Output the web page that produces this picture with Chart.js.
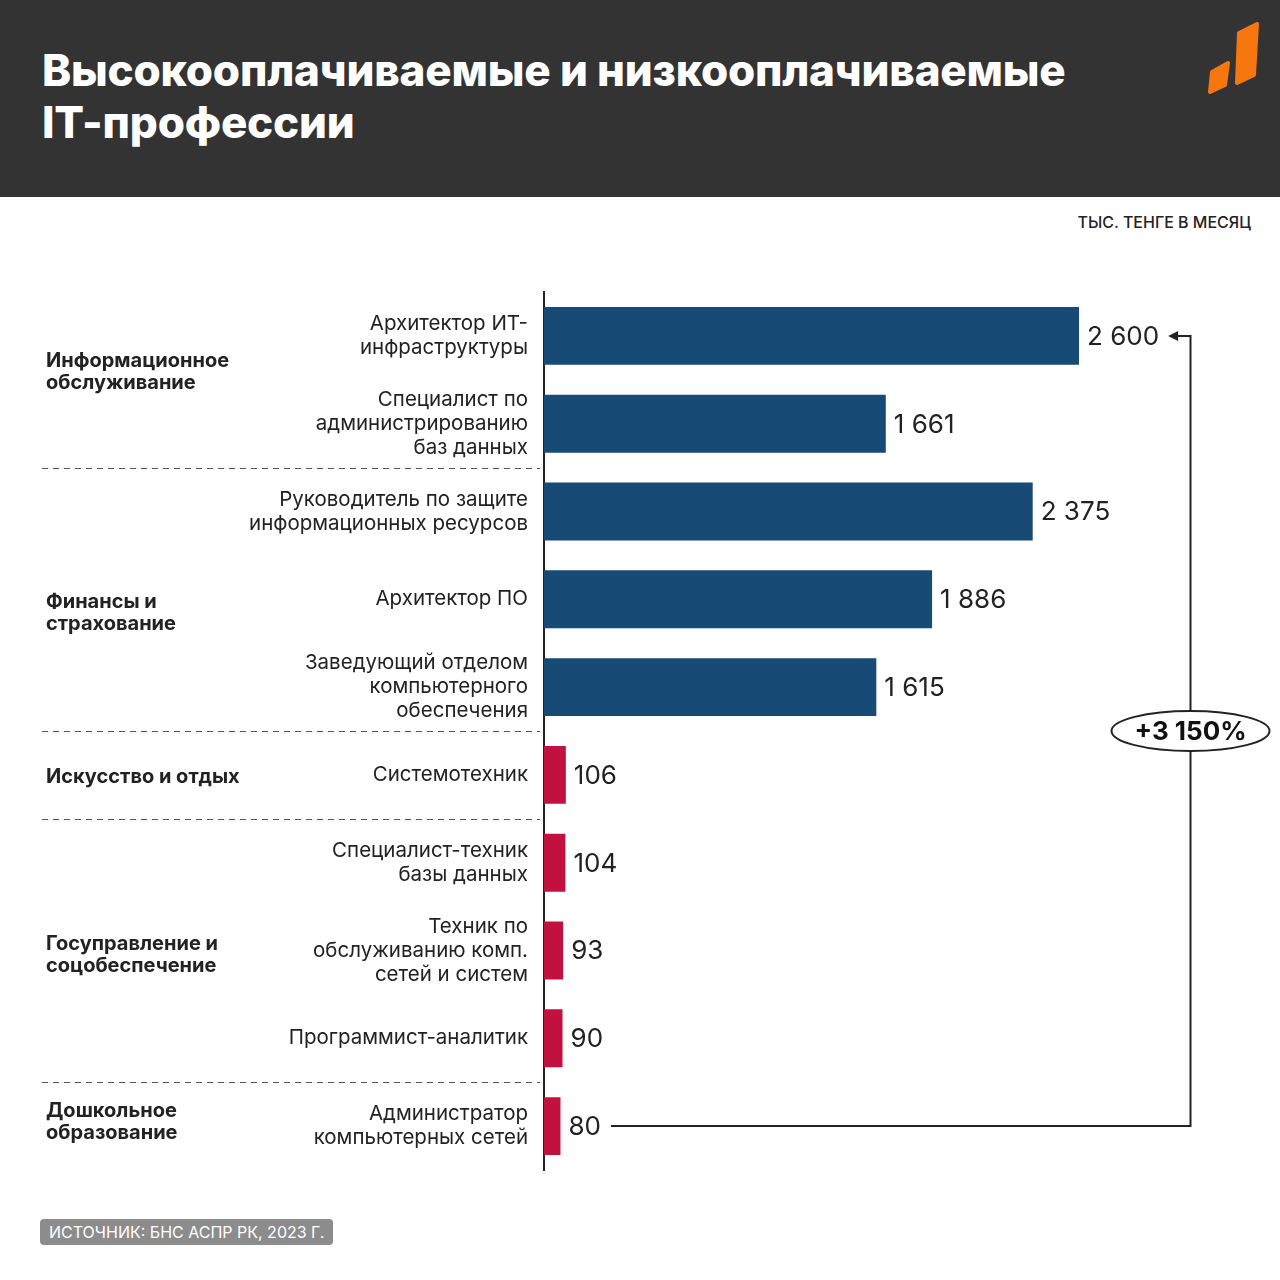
<!DOCTYPE html>
<html lang="ru">
<head>
<meta charset="utf-8">
<script src="https://cdn.jsdelivr.net/npm/chart.js@4.4.1/dist/chart.umd.min.js"></script>
<style>
  body { margin: 0; background: #fff; font-family: Inter, sans-serif; }
  #page { position: relative; width: 1280px; height: 1280px; overflow: hidden; background: #fff; }
  #header { position: absolute; left: 0; top: 0; width: 1280px; height: 197px; background: #333333; }
  #title { position: absolute; left: 42px; top: 44px; margin: 0; color: #fff; font-weight: 800; font-size: 44px; line-height: 52px; letter-spacing: -0.2px; }
  #logo { position: absolute; left: 0; top: 0; }
  #unit { position: absolute; right: 29px; top: 212px; font-size: 16px; color: #222; font-weight: 500; }
  #source { position: absolute; left: 40px; top: 1219px; height: 26px; padding: 0 9px; background: #8c8c8c; color: #fff; font-size: 16px; line-height: 26px; border-radius: 4px; }
  #chart { position: absolute; left: 0; top: 0; }
</style>
</head>
<body>
<div id="page">
  <div id="header">
    <h1 id="title">Высокооплачиваемые и низкооплачиваемые<br>IT-профессии</h1>
    <svg id="logo" width="1280" height="197">
      <polygon points="1212,72 1228,63 1225,85 1210,92" fill="#f7770f" stroke="#f7770f" stroke-width="4" stroke-linejoin="round"/>
      <polygon points="1239,33 1257,24 1254,75 1237,83" fill="#f7770f" stroke="#f7770f" stroke-width="4" stroke-linejoin="round"/>
    </svg>
  </div>
  <div id="unit">ТЫС. ТЕНГЕ В МЕСЯЦ</div>
  <canvas id="chart" width="1280" height="1280"></canvas>
  <div id="source">ИСТОЧНИК: БНС АСПР РК, 2023 Г.</div>
</div>

<script>
const professions = [
    ['Архитектор ИТ-', 'инфраструктуры'],
    ['Специалист по', 'администрированию', 'баз данных'],
    ['Руководитель по защите', 'информационных ресурсов'],
    ['Архитектор ПО'],
    ['Заведующий отделом', 'компьютерного', 'обеспечения'],
    ['Системотехник'],
    ['Специалист-техник', 'базы данных'],
    ['Техник по', 'обслуживанию комп.', 'сетей и систем'],
    ['Программист-аналитик'],
    ['Администратор', 'компьютерных сетей']
];
const salaries = [2600, 1661, 2375, 1886, 1615, 106, 104, 93, 90, 80];
const payTier = ['high', 'high', 'high', 'high', 'high', 'low', 'low', 'low', 'low', 'low'];

const groupNames = [
    ['Информационное', 'обслуживание'],
    ['Финансы и', 'страхование'],
    ['Искусство и отдых'],
    ['Госуправление и', 'соцобеспечение'],
    ['Дошкольное', 'образование']
];
const groupOfBar = [0, 0, 1, 1, 1, 2, 3, 3, 3, 4];

const tierColors = { high: '#174a75', low: '#c2103f' };
const inkColor = '#222222';
// vertical nudge of each group name relative to its band centre (px)
const groupNameNudge = [-8, 14, 2, 4, -4];

function fmt(n) {
    return n.toString().replace(/\B(?=(\d{3})+(?!\d))/g, ' ');
}

const groupsPlugin = {
    id: 'groups',
    afterDraw(chart) {
        const ctx = chart.ctx;
        const y = chart.scales.y;
        const band = y.getPixelForValue(1) - y.getPixelForValue(0);
        ctx.save();

        // group names
        ctx.fillStyle = inkColor;
        ctx.font = '700 20px Inter';
        ctx.textAlign = 'left';
        ctx.textBaseline = 'middle';
        groupNames.forEach((lines, g) => {
            const idx = groupOfBar.map((v, i) => v === g ? i : -1).filter(i => i >= 0);
            const top = y.getPixelForValue(idx[0]) - band / 2;
            const bottom = y.getPixelForValue(idx[idx.length - 1]) + band / 2;
            const mid = (top + bottom) / 2 + groupNameNudge[g];
            const lh = 22;
            lines.forEach((line, k) => {
                ctx.fillText(line, 46, mid + (k - (lines.length - 1) / 2) * lh);
            });
        });

        // dashed separators between groups
        ctx.strokeStyle = '#555';
        ctx.lineWidth = 1;
        ctx.setLineDash([6, 5]);
        for (let i = 1; i < groupOfBar.length; i++) {
            if (groupOfBar[i] !== groupOfBar[i - 1]) {
                const yy = Math.round(y.getPixelForValue(i) - band / 2) + 0.5;
                ctx.beginPath();
                ctx.moveTo(42, yy);
                ctx.lineTo(540, yy);
                ctx.stroke();
            }
        }
        ctx.setLineDash([]);

        // value labels
        const meta = chart.getDatasetMeta(0);
        ctx.font = '400 26px Inter';
        const labelEnds = [];
        meta.data.forEach((bar, i) => {
            const txt = fmt(salaries[i]);
            ctx.fillText(txt, bar.x + 8, bar.y + 1);
            labelEnds.push(bar.x + 8 + ctx.measureText(txt).width);
        });

        // bracket from lowest to highest
        const maxI = salaries.indexOf(Math.max(...salaries));
        const minI = salaries.indexOf(Math.min(...salaries));
        const yMax = meta.data[maxI].y;
        const yMin = meta.data[minI].y;
        const bx = 1190.5;
        ctx.strokeStyle = inkColor;
        ctx.lineWidth = 2;
        ctx.beginPath();
        ctx.moveTo(labelEnds[minI] + 10, yMin);
        ctx.lineTo(bx, yMin);
        ctx.lineTo(bx, yMax);
        ctx.lineTo(labelEnds[maxI] + 14, yMax);
        ctx.stroke();
        ctx.fillStyle = inkColor;
        ctx.beginPath();
        ctx.moveTo(labelEnds[maxI] + 9, yMax);
        ctx.lineTo(labelEnds[maxI] + 19, yMax - 5);
        ctx.lineTo(labelEnds[maxI] + 19, yMax + 5);
        ctx.closePath();
        ctx.fill();

        // growth badge
        const growth = Math.round((salaries[maxI] / salaries[minI] - 1) * 100);
        const cy = (yMax + yMin) / 2;
        ctx.beginPath();
        ctx.ellipse(bx, cy, 79, 20, 0, 0, Math.PI * 2);
        ctx.fillStyle = '#fff';
        ctx.fill();
        ctx.stroke();
        ctx.fillStyle = '#111';
        ctx.font = '700 26px Inter';
        ctx.textAlign = 'center';
        ctx.fillText('+' + fmt(growth) + '%', bx, cy + 1);

        ctx.restore();
    }
};

new Chart(document.getElementById('chart'), {
    type: 'bar',
    data: {
        labels: professions,
        datasets: [{
            data: salaries,
            backgroundColor: payTier.map(t => tierColors[t]),
            barPercentage: 0.66,
            categoryPercentage: 1
        }]
    },
    options: {
        indexAxis: 'y',
        responsive: false,
        animation: false,
        layout: { padding: { left: 0, right: 201, top: 292, bottom: 110 } },
        plugins: { legend: { display: false }, tooltip: { enabled: false } },
        scales: {
            x: { display: false, min: 0, max: 2600 },
            y: {
                grid: { display: false, drawTicks: false },
                border: { display: true, color: inkColor, width: 2 },
                ticks: {
                    color: inkColor,
                    padding: 16,
                    font: { family: 'Inter', size: 20.5, lineHeight: 1.17 }
                },
                afterFit(scale) { scale.width = 544; }
            }
        }
    },
    plugins: [groupsPlugin]
});
</script>
</body>
</html>
